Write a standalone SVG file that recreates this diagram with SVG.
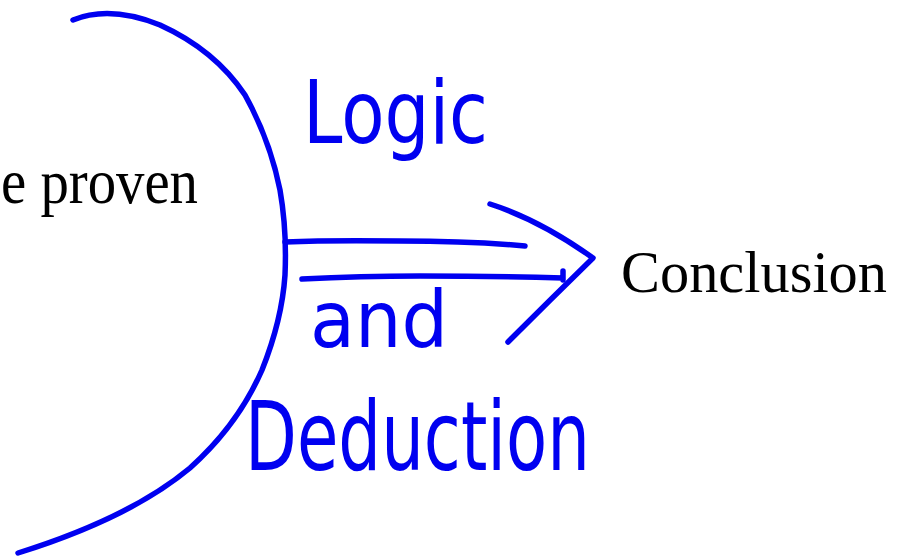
<svg xmlns="http://www.w3.org/2000/svg" width="898" height="558" viewBox="0 0 898 558">
<style>
.ink{fill:none;stroke:#0000f0;stroke-width:5.5;stroke-linecap:round;stroke-linejoin:round}
.print{font-family:"Liberation Serif","Times New Roman",serif;font-size:63px;fill:#000}
.hand{font-family:"DejaVu Sans","Liberation Sans",sans-serif;fill:#0000f0}
</style>
<rect width="898" height="558" fill="#fff"/>
<g id="premise">
<path class="ink" d="M73,20 Q110,5 160,25 Q215,50 245,95 Q270,140 280,190 Q287,230 285,275 Q282,320 262,370 Q238,425 190,468 Q130,518 18,553"/>
<text class="print" x="1" y="203" textLength="197" lengthAdjust="spacingAndGlyphs">e proven</text>
</g>
<g id="conclusion">
<text class="print" x="621" y="292" font-size="59" style="font-size:59px" textLength="266" lengthAdjust="spacingAndGlyphs">Conclusion</text>
</g>
<g id="connectors">
<path class="ink" d="M285,242 Q330,240 400,241 Q470,241 525,246"/>
<path class="ink" d="M302,279 Q360,276 420,276 Q500,276 563,278 M563,271 L563,280"/>
<path class="ink" d="M490,204 Q540,220 593,258 Q550,300 508,342"/>
</g>
<g id="labels">
<text class="hand" x="303" y="143" font-size="88" textLength="185" lengthAdjust="spacingAndGlyphs">Logic</text>
<text class="hand" x="310" y="347" font-size="78" textLength="138" lengthAdjust="spacingAndGlyphs">and</text>
<text class="hand" x="245" y="470" font-size="96" textLength="345" lengthAdjust="spacingAndGlyphs">Deduction</text>
</g>
</svg>
